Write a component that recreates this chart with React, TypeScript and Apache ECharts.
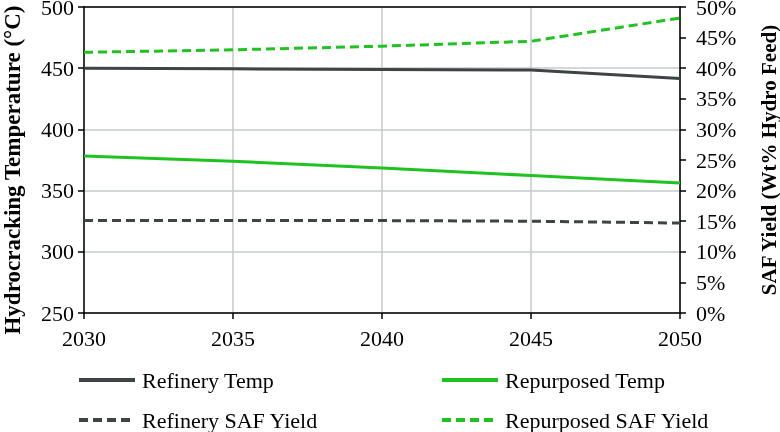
import React, { useEffect, useRef } from "react";
import * as echarts from "echarts";

const years = [2030, 2035, 2040, 2045, 2050];
const refineryTemp = [450, 449.5, 449, 448.5, 441.5];
const repurposedTemp = [378.3, 374, 368.5, 362.3, 356.2];
const refinerySafYield = [15.1, 15.1, 15.1, 15.0, 14.7];
const repurposedSafYield = [42.6, 43.0, 43.6, 44.4, 48.2];

const GRAY = "#3c4446";
const GREEN = "#1fc31f";
const FONT = "Liberation Serif";

const pairs = (ys: number[]) => years.map((x, i) => [x, ys[i]]);

export default function App() {
  const ref = useRef<HTMLDivElement>(null);
  useEffect(() => {
    if (!ref.current) return;
    const chart = echarts.init(ref.current, null, { renderer: "svg" });
    const legendCommon = {
      padding: 0,
      itemWidth: 56,
      itemHeight: 12,
      itemStyle: { opacity: 0 },
      lineStyle: { width: 4 },
      textStyle: { fontFamily: FONT, fontSize: 22, color: "#000", padding: [0, 0, 0, 2] },
      itemGap: 6,
    };
    chart.setOption({
      animation: false,
      textStyle: { fontFamily: FONT },
      grid: { left: 84, right: 100, top: 7, bottom: 119, outerBoundsMode: "none", containLabel: false },
      xAxis: [
        {
          type: "value",
          min: 2030,
          max: 2050,
          interval: 5,
          axisLine: { lineStyle: { color: "#000", width: 1.5 } },
          axisTick: { show: true, length: 6, lineStyle: { color: "#000", width: 1.5 } },
          axisLabel: {
            fontFamily: FONT,
            fontSize: 22,
            color: "#000",
            margin: 14,
            formatter: (v: number) => String(v),
          },
          splitLine: { show: true, lineStyle: { color: "#c3cbcb", width: 1.5 } },
        },
        {
          type: "value",
          position: "top",
          min: 2030,
          max: 2050,
          axisLine: { show: true, lineStyle: { color: "#000", width: 1.5 } },
          axisTick: { show: false },
          axisLabel: { show: false },
          splitLine: { show: false },
        },
      ],
      yAxis: [
        {
          type: "value",
          min: 250,
          max: 500,
          interval: 50,
          name: "Hydrocracking Temperature (°C)",
          nameLocation: "middle",
          nameGap: 60,
          nameTextStyle: {
            fontFamily: FONT,
            fontSize: 23,
            fontWeight: "bold",
            color: "#000",
            padding: [0, 20, 0, 0],
          },
          axisLine: { show: true, lineStyle: { color: "#000", width: 1.5 } },
          axisTick: { show: true, length: 6, lineStyle: { color: "#000", width: 1.5 } },
          axisLabel: { fontFamily: FONT, fontSize: 22, color: "#000", margin: 10 },
          splitLine: { show: true, lineStyle: { color: "#c3cbcb", width: 1.5 } },
        },
        {
          type: "value",
          min: 0,
          max: 50,
          interval: 5,
          position: "right",
          name: "SAF Yield (Wt% Hydro Feed)",
          nameLocation: "middle",
          nameGap: 78,
          nameRotate: 90,
          nameTextStyle: { fontFamily: FONT, fontSize: 21, fontWeight: "bold", color: "#000" },
          axisLine: { show: true, lineStyle: { color: "#000", width: 1.5 } },
          axisTick: { show: true, length: 6, lineStyle: { color: "#000", width: 1.5 } },
          axisLabel: { fontFamily: FONT, fontSize: 22, color: "#000", margin: 16, formatter: "{value}%" },
          splitLine: { show: false },
        },
      ],
      legend: [
        { ...legendCommon, data: ["Refinery Temp"], left: 77, top: 369 },
        { ...legendCommon, data: ["Repurposed Temp"], left: 440, top: 369 },
        { ...legendCommon, data: ["Refinery SAF Yield"], left: 77, top: 409 },
        { ...legendCommon, data: ["Repurposed SAF Yield"], left: 440, top: 409 },
      ],
      series: [
        {
          name: "Refinery Temp",
          type: "line",
          yAxisIndex: 0,
          data: pairs(refineryTemp),
          symbol: "none",
          lineStyle: { color: GRAY, width: 3 },
          itemStyle: { color: GRAY },
        },
        {
          name: "Repurposed Temp",
          type: "line",
          yAxisIndex: 0,
          data: pairs(repurposedTemp),
          symbol: "none",
          lineStyle: { color: GREEN, width: 3 },
          itemStyle: { color: GREEN },
        },
        {
          name: "Refinery SAF Yield",
          type: "line",
          yAxisIndex: 1,
          data: pairs(refinerySafYield),
          symbol: "none",
          lineStyle: { color: GRAY, width: 3, type: [9, 5] },
          itemStyle: { color: GRAY },
        },
        {
          name: "Repurposed SAF Yield",
          type: "line",
          yAxisIndex: 1,
          data: pairs(repurposedSafYield),
          symbol: "none",
          lineStyle: { color: GREEN, width: 3, type: [9, 5] },
          itemStyle: { color: GREEN },
        },
      ],
    });
    return () => chart.dispose();
  }, []);
  return <div ref={ref} style={{ width: 780, height: 432, position: "fixed", left: 0, top: 0 }} />;
}
